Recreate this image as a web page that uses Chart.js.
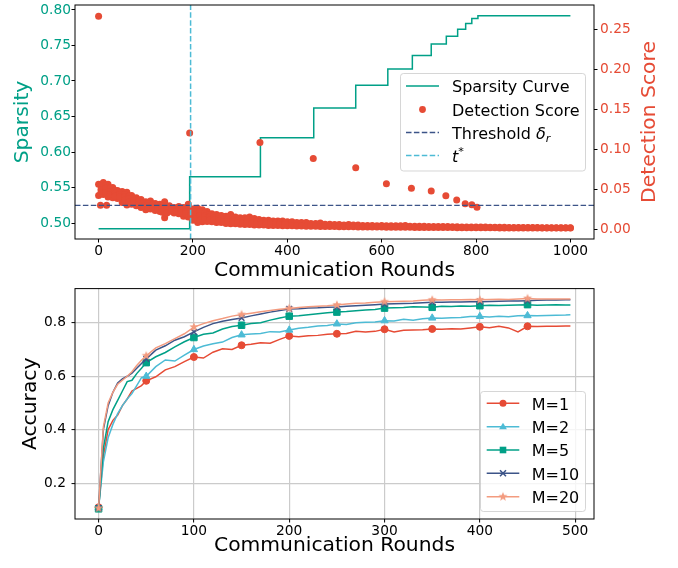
<!DOCTYPE html>
<html><head><meta charset="utf-8">
<script src="https://cdn.jsdelivr.net/npm/chart.js"></script>
<style>
html,body{margin:0;padding:0;background:#fff;}
#wrap{position:relative;width:678px;height:568px;overflow:hidden;background:#fff;}
canvas{position:absolute;left:0;}
#c1{top:0;width:678px;height:283px;}
#c2{top:283px;width:678px;height:285px;}
</style></head>
<body><div id="wrap"><canvas id="c1" width="678" height="283"></canvas><canvas id="c2" width="678" height="285"></canvas></div>
<script>
// ---------------- DATA (top panel) ----------------
const sparsityRounds = [0,193,343,456,545,613,665,705,737,761,778,791,804,1000];
const sparsityLevels = [0.492,0.565,0.620,0.662,0.694,0.717,0.736,0.752,0.763,0.773,0.781,0.788,0.792,0.792];

const scoreRounds = [0,10,20,30,40,50,60,70,80,90,100,110,120,130,140,150,160,170,180,190,
 200,210,220,230,240,250,260,270,280,290,300,310,320,330,340,350,360,370,380,390,
 400,410,420,430,440,450,460,470,480,490,500,510,520,530,540,550,560,570,580,590,
 600,610,620,630,640,650,660,670,680,690,700,710,720,730,740,750,760,770,780,790,
 800,810,820,830,840,850,860,870,880,890,900,910,920,930,940,950,960,970,980,990,1000];
const scoreHigh = [0.056,0.058,0.056,0.052,0.048,0.047,0.046,0.042,0.039,0.037,
 0.034,0.035,0.032,0.031,0.034,0.029,0.027,0.028,0.027,0.031,
 0.025,0.026,0.024,0.022,0.019,0.018,0.017,0.016,0.018,0.015,
 0.014,0.014,0.015,0.013,0.012,0.011,0.011,0.010,0.010,0.010,
 0.009,0.009,0.008,0.008,0.008,0.007,0.007,0.0075,0.006,0.006,
 0.0055,0.0055,0.005,0.0055,0.005,0.005,0.0045,0.0045,0.0045,0.004,
 0.0045,0.004,0.004,0.004,0.004,0.0045,0.0035,0.0035,0.0035,0.0035,
 0.003,0.003,0.003,0.003,0.003,0.0028,0.0028,0.0026,0.0026,0.0025,
 0.0025,0.0024,0.0024,0.0023,0.0022,0.0022,0.0021,0.002,0.002,0.002,
 0.0019,0.0019,0.0018,0.0018,0.0017,0.0017,0.0016,0.0016,0.0015,0.0015,0.0015];
const scoreLow = [0.042,0.043,0.040,0.039,0.038,0.033,0.030,0.031,0.029,0.027,
 0.024,0.025,0.023,0.022,0.014,0.022,0.020,0.019,0.016,0.015,
 0.011,0.008,0.009,0.0095,0.009,0.008,0.008,0.007,0.0065,0.0065,
 0.006,0.0055,0.0055,0.005,0.005,0.005,0.0045,0.0045,0.0045,0.004,
 0.004,0.004,0.0038,0.0036,0.0035,0.0034,0.0033,0.0032,0.0031,0.003,
 0.003,0.0029,0.0028,0.0028,0.0027,0.0026,0.0026,0.0025,0.0025,0.0024,
 0.0024,0.0023,0.0023,0.0022,0.0022,0.0021,0.0021,0.002,0.002,0.002,
 0.0019,0.0019,0.0019,0.0018,0.0018,0.0018,0.0017,0.0017,0.0017,0.0016,
 0.0016,0.0016,0.0015,0.0015,0.0015,0.0014,0.0014,0.0014,0.0014,0.0013,
 0.0013,0.0013,0.0013,0.0012,0.0012,0.0012,0.0012,0.0011,0.0011,0.0011,0.0011];
// in-between rounds (early part, where the band is thick)
const scoreHalfRounds = [5,15,25,35,45,55,65,75,85,95,105,115,125,135,145,155,165,175,185,195,
 205,215,225,235,245,255,265,275,285,295,305,315,325,335,345,355,365,375,385,395];
const scoreUpperMid = [0.054,0.054,0.051,0.048,0.045,0.043,0.041,0.038,0.036,0.033,
 0.032,0.031,0.029,0.029,0.028,0.026,0.026,0.025,0.026,0.025,
 0.022,0.022,0.020,0.018,0.017,0.016,0.015,0.015,0.014,0.013,
 0.012,0.012,0.012,0.011,0.010,0.0095,0.009,0.0088,0.0085,0.008];
const scoreMid = [0.049,0.051,0.047,0.045,0.043,0.040,0.038,0.036,0.034,0.032,
 0.029,0.030,0.028,0.026,0.025,0.025,0.024,0.023,0.021,0.022,
 0.018,0.017,0.016,0.015,0.014,0.013,0.012,0.012,0.011,0.010,
 0.010,0.0095,0.010,0.009,0.0085,0.008,0.0078,0.0075,0.007,0.0068];
const scoreLowerMid = [0.045,0.045,0.043,0.041,0.040,0.036,0.034,0.033,0.031,0.029,
 0.026,0.027,0.025,0.021,0.020,0.023,0.022,0.020,0.019,0.017,
 0.013,0.011,0.012,0.011,0.011,0.010,0.0095,0.009,0.0085,0.008,
 0.0075,0.007,0.007,0.0065,0.0065,0.006,0.0058,0.0056,0.0055,0.0053];
const outlierRounds = [0,4,17,193,342,455,545,610,663,705,736,759,777,791,802];
const outlierScores = [0.266,0.0298,0.0298,0.120,0.108,0.088,0.0765,0.0566,0.051,0.0475,0.0416,0.0362,0.0317,0.0302,0.0272];
const thresholdScore = 0.0295;
const tStarRound = 195;

const topRoundTicks = [0,200,400,600,800,1000];
const topRoundTickLabels = ['0','200','400','600','800','1000'];
const sparsityTicks = [0.50,0.55,0.60,0.65,0.70,0.75,0.80];
const sparsityTickLabels = ['0.50','0.55','0.60','0.65','0.70','0.75','0.80'];
const scoreTicks = [0.00,0.05,0.10,0.15,0.20,0.25];
const scoreTickLabels = ['0.00','0.05','0.10','0.15','0.20','0.25'];

// ---------------- DATA (bottom panel) ----------------
const accRounds = [0,5,10,15,20,25,30,35,40,45,50,60,70,80,90,100,110,120,130,140,150,160,170,180,190,
 200,210,220,230,240,250,260,270,280,290,300,310,320,330,340,350,360,370,380,390,
 400,410,420,430,440,450,460,470,480,490,495];
const markerRounds = [0,50,100,150,200,250,300,350,400,450];
const accM1 = [0.110,0.30,0.40,0.435,0.455,0.49,0.515,0.545,0.555,0.565,0.583,0.598,0.624,0.636,0.655,0.672,0.668,0.690,0.703,0.700,0.716,0.720,0.725,0.724,0.738,
 0.751,0.748,0.752,0.753,0.757,0.759,0.760,0.768,0.766,0.768,0.776,0.766,0.772,0.773,0.774,0.777,0.776,0.778,0.777,0.781,
 0.785,0.782,0.787,0.781,0.766,0.787,0.786,0.787,0.787,0.788,0.788];
const accM2 = [0.108,0.28,0.37,0.42,0.46,0.49,0.515,0.535,0.565,0.595,0.600,0.636,0.661,0.657,0.679,0.700,0.713,0.722,0.728,0.745,0.755,0.758,0.760,0.767,0.766,
 0.773,0.780,0.783,0.788,0.790,0.796,0.794,0.800,0.802,0.803,0.808,0.807,0.813,0.810,0.815,0.818,0.817,0.819,0.820,0.824,
 0.824,0.822,0.825,0.823,0.826,0.827,0.826,0.827,0.828,0.829,0.830];
const accM5 = [0.104,0.33,0.43,0.475,0.51,0.545,0.58,0.585,0.61,0.63,0.651,0.673,0.689,0.710,0.729,0.745,0.757,0.762,0.777,0.786,0.791,0.797,0.800,0.810,0.818,
 0.825,0.826,0.830,0.834,0.838,0.840,0.842,0.845,0.848,0.850,0.855,0.856,0.857,0.860,0.859,0.858,0.862,0.861,0.863,0.862,
 0.864,0.866,0.865,0.866,0.867,0.868,0.866,0.867,0.868,0.867,0.867];
const accM10 = [0.107,0.40,0.49,0.54,0.575,0.59,0.60,0.612,0.63,0.648,0.665,0.698,0.714,0.735,0.748,0.766,0.783,0.797,0.806,0.812,0.818,0.826,0.833,0.840,0.846,
 0.852,0.853,0.855,0.856,0.858,0.859,0.862,0.864,0.866,0.868,0.870,0.871,0.872,0.873,0.875,0.877,0.877,0.878,0.878,0.879,
 0.879,0.880,0.881,0.882,0.882,0.883,0.884,0.885,0.885,0.886,0.886];
const accM20 = [0.106,0.41,0.50,0.54,0.57,0.585,0.60,0.617,0.64,0.66,0.677,0.706,0.722,0.741,0.759,0.784,0.797,0.808,0.816,0.825,0.831,0.836,0.841,0.846,0.851,
 0.854,0.857,0.860,0.862,0.864,0.867,0.870,0.873,0.874,0.877,0.879,0.880,0.881,0.882,0.884,0.886,0.885,0.886,0.886,0.887,
 0.886,0.887,0.888,0.887,0.889,0.891,0.889,0.889,0.889,0.889,0.889];
const seriesLabels = ['M=1','M=2','M=5','M=10','M=20'];
const botRoundTicks = [0,100,200,300,400,500];
const botRoundTickLabels = ['0','100','200','300','400','500'];
const accTicks = [0.2,0.4,0.6,0.8];
const accTickLabels = ['0.2','0.4','0.6','0.8'];

// ---------------- STYLE ----------------
const FONT = 'DejaVu Sans';
Chart.defaults.font.family = FONT;
Chart.defaults.color = '#000';
const C_RED='#E64B35', C_CYAN='#4DBBD5', C_TEAL='#00A087', C_NAVY='#3C5488', C_SALMON='#F39B7F';
const DASH = [5.5, 2.4];
const TICK_FS = 13.8, TITLE_FS = 20.3, LEG_FS = 16;

function fixedTicks(values){ return s => { s.ticks = values.map(v => ({value: v})); }; }
function fitW(w){ return s => { s.width = w; s.paddingTop = 0; s.paddingBottom = 0; }; }
function fitH(h){ return s => { s.height = h; s.paddingLeft = 0; s.paddingRight = 0; }; }

function makeStar(color, R){
  const s = Math.ceil(R*2+2); const c = document.createElement('canvas'); c.width = s; c.height = s;
  const g = c.getContext('2d'); g.translate(s/2, s/2); g.beginPath();
  for (let i = 0; i < 10; i++){ const r = i%2 ? R*0.42 : R; const a = -Math.PI/2 + i*Math.PI/5; g.lineTo(r*Math.cos(a), r*Math.sin(a)); }
  g.closePath(); g.fillStyle = color; g.fill(); return c;
}
const starImg = makeStar(C_SALMON, 4.8);

function roundRect(ctx, x, y, w, h, r){
  ctx.beginPath(); ctx.moveTo(x+r, y); ctx.lineTo(x+w-r, y); ctx.arcTo(x+w, y, x+w, y+r, r);
  ctx.lineTo(x+w, y+h-r); ctx.arcTo(x+w, y+h, x+w-r, y+h, r); ctx.lineTo(x+r, y+h); ctx.arcTo(x, y+h, x, y+h-r, r);
  ctx.lineTo(x, y+r); ctx.arcTo(x, y, x+r, y, r); ctx.closePath();
}
function legendFrame(ctx, x, y, w, h){
  ctx.save(); roundRect(ctx, x, y, w, h, 3);
  ctx.fillStyle = 'rgba(255,255,255,0.8)'; ctx.fill();
  ctx.strokeStyle = 'rgba(204,204,204,0.8)'; ctx.lineWidth = 1; ctx.stroke(); ctx.restore();
}
function drawRich(ctx, parts, x, y){
  let cx = x;
  for (const p of parts){
    const fs = LEG_FS*(p.scale||1);
    ctx.font = (p.italic ? 'italic ' : '') + fs + 'px "' + FONT + '"';
    ctx.fillText(p.t, cx, y + (p.dy||0)*LEG_FS);
    cx += ctx.measureText(p.t).width;
  }
}
function spines(ctx, a){
  ctx.save(); ctx.strokeStyle = '#000'; ctx.lineWidth = 1;
  ctx.strokeRect(a.left, a.top, a.right-a.left, a.bottom-a.top); ctx.restore();
}
function handleLine(ctx, x0, x1, y, color, dash, lw){
  ctx.save(); ctx.strokeStyle = color; ctx.lineWidth = lw; ctx.setLineDash(dash||[]);
  ctx.beginPath(); ctx.moveTo(x0, y); ctx.lineTo(x1, y); ctx.stroke(); ctx.restore();
}
function marker(ctx, style, x, y, color){
  ctx.save(); ctx.fillStyle = color; ctx.strokeStyle = color; ctx.lineWidth = 1.5;
  if (style === 'circle'){ ctx.beginPath(); ctx.arc(x, y, 3.5, 0, 2*Math.PI); ctx.fill(); }
  else if (style === 'triangle'){ ctx.beginPath(); ctx.moveTo(x, y-4); ctx.lineTo(x+3.9, y+2.6); ctx.lineTo(x-3.9, y+2.6); ctx.closePath(); ctx.fill(); }
  else if (style === 'rect'){ ctx.fillRect(x-3.3, y-3.3, 6.6, 6.6); }
  else if (style === 'crossRot'){ ctx.beginPath(); ctx.moveTo(x-3, y-3); ctx.lineTo(x+3, y+3); ctx.moveTo(x+3, y-3); ctx.lineTo(x-3, y+3); ctx.stroke(); }
  else if (style === 'star'){ ctx.drawImage(starImg, x-starImg.width/2, y-starImg.height/2); }
  ctx.restore();
}

// ---------------- TOP CHART ----------------
const sparsityData = sparsityRounds.map((r,i) => ({x: r, y: sparsityLevels[i]}));
const scoreData = [];
scoreRounds.forEach((r,i) => { scoreData.push({x: r, y: scoreHigh[i]}); scoreData.push({x: r, y: scoreLow[i]}); });
scoreHalfRounds.forEach((r,i) => {
  scoreData.push({x: r, y: scoreUpperMid[i]});
  scoreData.push({x: r, y: scoreMid[i]});
  scoreData.push({x: r, y: scoreLowerMid[i]});
});
outlierRounds.forEach((r,i) => scoreData.push({x: r, y: outlierScores[i]}));

const TOP = {xmin: -50, xmax: 1050, ymin: 0.4775, ymax: 0.807, y1min: -0.0125, y1max: 0.28};

const topPlugin = {
  id: 'topDeco',
  afterDraw(chart){
    const ctx = chart.ctx, a = chart.chartArea;
    spines(ctx, a);
    ctx.save(); ctx.translate(654.5, (a.top+a.bottom)/2); ctx.rotate(-Math.PI/2);
    ctx.font = TITLE_FS + 'px "' + FONT + '"'; ctx.fillStyle = C_RED; ctx.textAlign = 'center'; ctx.textBaseline = 'alphabetic';
    ctx.fillText('Detection Score', 0, 0); ctx.restore();
    legendFrame(ctx, 400.5, 73.5, 185, 97.5);
    const rows = [86, 109.5, 132.5, 155.5];
    const hx0 = 406, hx1 = 439, tx = 452;
    handleLine(ctx, hx0, hx1, rows[0], C_TEAL, null, 1.5);
    ctx.save(); ctx.fillStyle = C_RED; ctx.beginPath(); ctx.arc((hx0+hx1)/2, rows[1], 3.4, 0, 2*Math.PI); ctx.fill(); ctx.restore();
    handleLine(ctx, hx0, hx1, rows[2], C_NAVY, DASH, 1.3);
    handleLine(ctx, hx0, hx1, rows[3], C_CYAN, DASH, 1.5);
    ctx.save(); ctx.fillStyle = '#000'; ctx.textBaseline = 'alphabetic';
    drawRich(ctx, [{t: 'Sparsity Curve'}], tx, rows[0]+6.3);
    drawRich(ctx, [{t: 'Detection Score'}], tx, rows[1]+6.3);
    drawRich(ctx, [{t: 'Threshold '}, {t: 'δ', italic: true}, {t: 'r', italic: true, scale: 0.7, dy: 0.2}], tx, rows[2]+6.3);
    drawRich(ctx, [{t: 't', italic: true}, {t: '*', scale: 0.7, dy: -0.42}], tx, rows[3]+6.3);
    ctx.restore();
  }
};

new Chart(document.getElementById('c1'), {
  type: 'scatter',
  data: { datasets: [
    { label: 't*', type: 'line', data: [{x: tStarRound, y: TOP.ymin}, {x: tStarRound, y: TOP.ymax}], yAxisID: 'y',
      borderColor: C_CYAN, borderDash: DASH, borderWidth: 1.5, pointRadius: 0, order: 0 },
    { label: 'Threshold δ_r', type: 'line', data: [{x: TOP.xmin, y: thresholdScore}, {x: TOP.xmax, y: thresholdScore}], yAxisID: 'y1',
      borderColor: C_NAVY, borderDash: DASH, borderWidth: 1.3, pointRadius: 0, order: 1 },
    { label: 'Detection Score', type: 'scatter', data: scoreData, yAxisID: 'y1',
      pointBackgroundColor: C_RED, pointBorderColor: C_RED, pointBorderWidth: 0, pointRadius: 3.5, order: 2 },
    { label: 'Sparsity Curve', type: 'line', data: sparsityData, yAxisID: 'y', stepped: true,
      borderColor: C_TEAL, borderWidth: 1.5, pointRadius: 0, order: 3 }
  ]},
  options: {
    responsive: false, animation: false, devicePixelRatio: 1, events: [],
    layout: { padding: { top: 5, left: 0, right: 0, bottom: 0 } },
    plugins: { legend: { display: false }, tooltip: { enabled: false } },
    scales: {
      x: { type: 'linear', position: 'bottom', min: TOP.xmin, max: TOP.xmax,
        afterBuildTicks: fixedTicks(topRoundTicks), afterFit: fitH(44),
        ticks: { autoSkip: false, maxRotation: 0, padding: 0.7, font: { size: TICK_FS }, color: '#000', callback: (v,i) => topRoundTickLabels[i] },
        grid: { drawOnChartArea: false, drawTicks: true, tickLength: 3.5, tickColor: '#000', tickWidth: 1 },
        border: { display: false },
        title: { display: true, text: 'Communication Rounds', font: { size: TITLE_FS }, color: '#000', padding: { top: 0, bottom: 0 } } },
      y: { type: 'linear', position: 'left', min: TOP.ymin, max: TOP.ymax,
        afterBuildTicks: fixedTicks(sparsityTicks), afterFit: fitW(75),
        ticks: { autoSkip: false, padding: 0.5, font: { size: TICK_FS }, color: C_TEAL, callback: (v,i) => sparsityTickLabels[i] },
        grid: { drawOnChartArea: false, drawTicks: true, tickLength: 3.5, tickColor: '#000', tickWidth: 1 },
        border: { display: false },
        title: { display: true, text: 'Sparsity', font: { size: TITLE_FS }, color: C_TEAL, padding: { top: 10.5, bottom: 0 } } },
      y1: { type: 'linear', position: 'right', min: TOP.y1min, max: TOP.y1max,
        afterBuildTicks: fixedTicks(scoreTicks), afterFit: fitW(84),
        ticks: { autoSkip: false, padding: 2.5, font: { size: TICK_FS }, color: C_RED, callback: (v,i) => scoreTickLabels[i] },
        grid: { drawOnChartArea: false, drawTicks: true, tickLength: 3.5, tickColor: '#000', tickWidth: 1 },
        border: { display: false },
        title: { display: false } }
    }
  },
  plugins: [topPlugin]
});

// ---------------- BOTTOM CHART ----------------
const accValues = [accM1, accM2, accM5, accM10, accM20];
const accColors = [C_RED, C_CYAN, C_TEAL, C_NAVY, C_SALMON];
const accStyles = ['circle', 'triangle', 'rect', 'crossRot', starImg];
const accLegendStyles = ['circle', 'triangle', 'rect', 'crossRot', 'star'];
const accRadius = [3.5, 4.2, 4.6, 4, 4.5];
const OFF = 283;

const botPlugin = {
  id: 'botDeco',
  afterDraw(chart){
    const ctx = chart.ctx, a = chart.chartArea;
    spines(ctx, a);
    legendFrame(ctx, 480.5, 391.5-OFF, 105, 120);
    const rows = [403.3, 426.7, 450, 473.3, 496.7].map(v => v - OFF);
    const hx0 = 486.7, hx1 = 519.3, tx = 531.7;
    seriesLabels.forEach((lab, k) => {
      handleLine(ctx, hx0, hx1, rows[k], accColors[k], null, 1.5);
      marker(ctx, accLegendStyles[k], (hx0+hx1)/2, rows[k], accColors[k]);
      ctx.save(); ctx.fillStyle = '#000'; ctx.textBaseline = 'alphabetic';
      drawRich(ctx, [{t: lab}], tx, rows[k]+6.3); ctx.restore();
    });
  }
};

new Chart(document.getElementById('c2'), {
  type: 'line',
  data: { datasets: seriesLabels.map((lab, k) => ({
    label: lab,
    data: accRounds.map((r,i) => ({x: r, y: accValues[k][i]})),
    borderColor: accColors[k], backgroundColor: accColors[k], borderWidth: 1.5,
    pointStyle: accStyles[k],
    pointRadius: c => (c.raw && markerRounds.includes(c.raw.x)) ? accRadius[k] : 0,
    pointBackgroundColor: accColors[k], pointBorderColor: accColors[k], pointBorderWidth: k === 3 ? 1.5 : 1,
    tension: 0, fill: false, order: 10 - k
  })) },
  options: {
    responsive: false, animation: false, devicePixelRatio: 1, events: [],
    layout: { padding: { top: 3, left: 0, right: 84, bottom: 0 } },
    plugins: { legend: { display: false }, tooltip: { enabled: false } },
    scales: {
      x: { type: 'linear', position: 'bottom', min: -24.75, max: 519.75,
        afterBuildTicks: fixedTicks(botRoundTicks), afterFit: fitH(49),
        ticks: { autoSkip: false, maxRotation: 0, padding: 0.9, font: { size: TICK_FS }, color: '#000', callback: (v,i) => botRoundTickLabels[i] },
        grid: { drawOnChartArea: true, drawTicks: true, tickLength: 3.5, color: '#cbcbcb', lineWidth: 1.2, tickColor: '#000', tickWidth: 1 },
        border: { display: false },
        title: { display: true, text: 'Communication Rounds', font: { size: TITLE_FS }, color: '#000', padding: { top: 0, bottom: 9.8 } } },
      y: { type: 'linear', position: 'left', min: 0.066, max: 0.928,
        afterBuildTicks: fixedTicks(accTicks), afterFit: fitW(75),
        ticks: { autoSkip: false, padding: 5.5, font: { size: TICK_FS }, color: '#000', callback: (v,i) => accTickLabels[i] },
        grid: { drawOnChartArea: true, drawTicks: true, tickLength: 3.5, color: '#cbcbcb', lineWidth: 1.2, tickColor: '#000', tickWidth: 1 },
        border: { display: false },
        title: { display: true, text: 'Accuracy', font: { size: TITLE_FS }, color: '#000', padding: { top: 18.6, bottom: 0 } } }
    }
  },
  plugins: [botPlugin]
});
</script></body></html>
